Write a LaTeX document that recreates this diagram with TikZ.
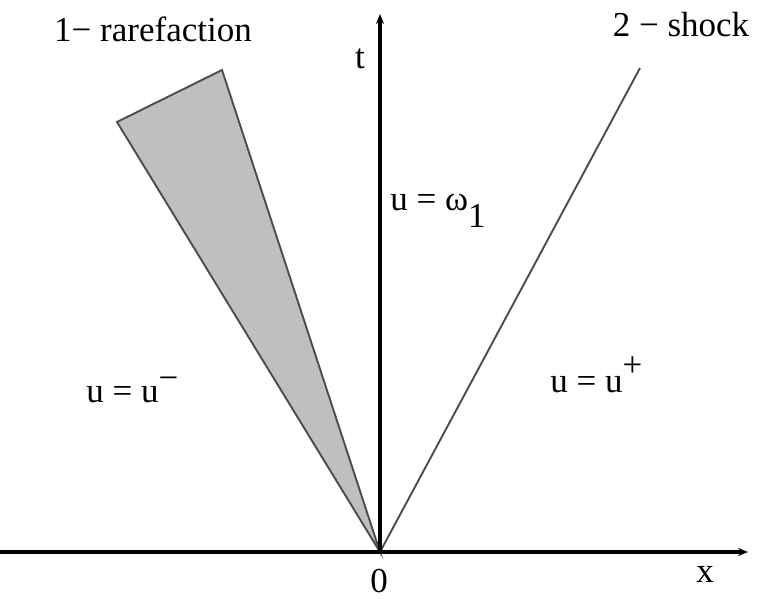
\documentclass[tikz,border=0pt]{standalone}
\usepackage{fontspec}
\setmainfont{Liberation Serif}
\usetikzlibrary{arrows.meta}
\begin{document}
\begin{tikzpicture}[x=0.5pt,y=-0.5pt,
  axis/.style={line width=1.8pt,-{Stealth[length=5pt,width=4pt]}},
  wave/.style={line width=0.95pt,draw=black!70},
  fan/.style={wave,fill=black!25},
  lbl/.style={inner sep=0pt,font=\fontsize{17.5}{20}\selectfont}]
\useasboundingbox (0,0) rectangle (760,599);
\coordinate (O) at (380,552);
\coordinate (xend) at (748,552);
\coordinate (tend) at (380,14);
\coordinate (fanA) at (117,122);
\coordinate (fanB) at (222,70);
\coordinate (shock) at (640,68);
\filldraw[fan] (O) -- (fanA) -- (fanB) -- cycle;
\draw[wave] (O) -- (shock);
\draw[axis] (0,552) -- (xend);
\draw[axis] (O) -- (tend);
\node[lbl,anchor=base] (rare) at (153,42) {1− rarefaction};
\node[lbl,anchor=base] (shk) at (681,37) {2 − shock};
\node[lbl,anchor=base] (tl) at (360,69) {t};
\node[lbl,anchor=base west] (mid) at (390,210) {u = ω\raisebox{-0.5em}{1}};
\node[lbl,anchor=base west] (left) at (86,402) {u = u\raisebox{0.35em}{−}};
\node[lbl,anchor=base west] (right) at (550,392) {u = u\raisebox{0.45em}{+}};
\node[lbl,anchor=base] (zero) at (379,592) {0};
\node[lbl,anchor=base] (xl) at (705,582) {x};
\end{tikzpicture}
\end{document}
